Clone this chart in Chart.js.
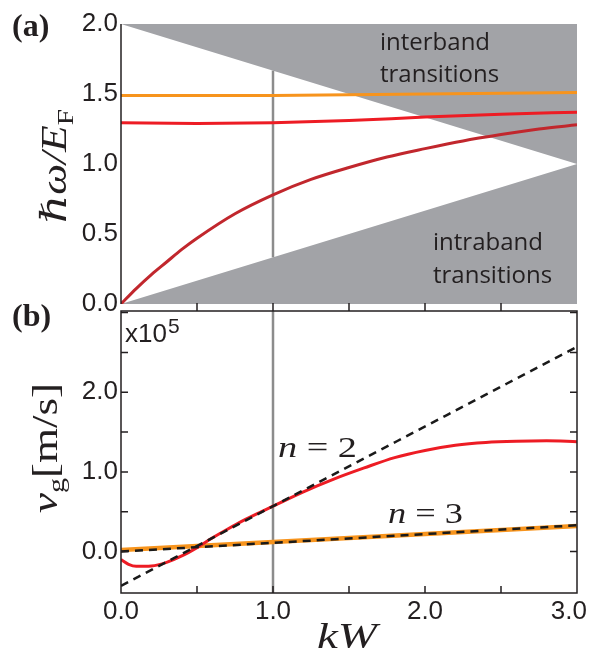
<!DOCTYPE html>
<html>
<head>
<meta charset="utf-8">
<script src="https://cdn.jsdelivr.net/npm/chart.js@4.4.0/dist/chart.umd.min.js"></script>
<style>
  body { margin: 0; background: #fff; width: 589px; height: 652px; position: relative; overflow: hidden; }
  #wa { position: absolute; left: 0; top: 0; width: 589px; height: 312px; }
  #wb { position: absolute; left: 0; top: 300px; width: 589px; height: 352px; }
</style>
</head>
<body>
<div id="wa"><canvas id="chartA"></canvas></div>
<div id="wb"><canvas id="chartB"></canvas></div>
<script>
// ---- panel (a): dispersion hw/EF vs kW ----
var kEdge = [0, 3];
var interbandEdge = [2.0, 1.0];
var intrabandEdge = [0.0, 1.0];
var kMarker = 1.0;
var markerSpanA = [0.333, 1.667];
var kOrangeA = [0, 1, 2, 3];
var orangeA = [1.49, 1.49, 1.50, 1.51];
var kRedA = [0, 0.5, 1, 1.5, 2, 2.5, 3];
var redA = [1.295, 1.29, 1.295, 1.31, 1.335, 1.355, 1.37];
var kDarkA = [0, 0.1, 0.2, 0.3, 0.4, 0.5, 0.75, 1.0, 1.25, 1.5, 1.75, 2.0, 2.25, 2.5, 2.75, 3.0];
var darkA = [0, 0.11, 0.21, 0.30, 0.39, 0.47, 0.645, 0.78, 0.89, 0.975, 1.05, 1.11, 1.165, 1.21, 1.25, 1.28];

// ---- panel (b): group velocity (x10^5 m/s) vs kW ----
var kB = [0, 0.05, 0.1, 0.2, 0.3, 0.4, 0.5, 0.6, 0.7, 0.8, 0.9, 1.0, 1.2, 1.4, 1.6, 1.8, 2.0, 2.2, 2.4, 2.6, 2.8, 3.0];
var vgN2 = [-0.10, -0.16, -0.185, -0.18, -0.135, -0.055, 0.05, 0.17, 0.28, 0.385, 0.48, 0.57, 0.75, 0.91, 1.05, 1.18, 1.27, 1.335, 1.37, 1.385, 1.39, 1.38];
var kLin = [0, 3];
var vgN3 = [0.02, 0.32];
var asymN2 = [-0.43, 2.57];
var asymN3 = [0.0, 0.33];

// ticks
var yTicksB = [0, 1, 2];
var xTickLabels = [0, 1, 2, 3];
var xMinorTicks = [0.5, 1.0, 1.5, 2.0, 2.5];
var yMinorTicksB = [0, 0.5, 1.0, 1.5, 2.0, 2.5, 3.0];

var ink = '#231f20';
var shade = '#a2a3a7';
var sans = '"Liberation Sans", Arial, sans-serif';
var serif = '"Liberation Serif", "DejaVu Serif", serif';

function pts(xs, ys) {
    return xs.map(function(x, i) { return {x: x, y: ys[i]}; });
}

function line(data, color, width, extra) {
    var d = {data: data, borderColor: color, borderWidth: width, pointRadius: 0,
             fill: false, cubicInterpolationMode: 'monotone'};
    for (var k in extra) d[k] = extra[k];
    return d;
}

// no label overflow padding, the plot box is set by layout.padding only
function noPad(s) {
    s.paddingTop = 0; s.paddingBottom = 0; s.paddingLeft = 0; s.paddingRight = 0;
}

// draws text made of parts [text, font, dy], optionally rotated and stretched to a width
function mathText(ctx, parts, x, y, rot, width) {
    ctx.save();
    ctx.translate(x, y);
    if (rot) ctx.rotate(rot);
    var w = 0;
    parts.forEach(function(p) { ctx.font = p[1]; w += ctx.measureText(p[0]).width; });
    if (width) ctx.scale(width / w, 1);
    ctx.fillStyle = ink;
    ctx.textBaseline = 'alphabetic';
    ctx.textAlign = 'left';
    var cx = -w / 2;
    parts.forEach(function(p) {
        ctx.font = p[1];
        ctx.fillText(p[0], cx, p[2] || 0);
        cx += ctx.measureText(p[0]).width;
    });
    ctx.restore();
}

var decorA = {
    id: 'decorA',
    afterDraw: function(chart) {
        var ctx = chart.ctx, a = chart.chartArea;
        ctx.save();
        ctx.strokeStyle = ink;
        ctx.lineWidth = 1.5;
        ctx.beginPath();
        ctx.moveTo(a.left, a.top);
        ctx.lineTo(a.left, a.bottom);
        ctx.stroke();

        ctx.fillStyle = ink;
        ctx.font = 'bold 32px ' + serif;
        ctx.fillText('(a)', 12, 36);

        ctx.font = '24px "Open Sans", sans-serif';
        ctx.fillText('interband', 380, 50);
        ctx.fillText('transitions', 380, 82);
        ctx.fillText('intraband', 433, 250);
        ctx.fillText('transitions', 433, 283);
        ctx.restore();

        mathText(ctx, [['\u210F\u03C9/E', 'italic 36px ' + serif], ['F', '24px ' + serif, 7]],
                 66, 166, -Math.PI / 2, 114);
    }
};

var decorB = {
    id: 'decorB',
    afterDraw: function(chart) {
        var ctx = chart.ctx, a = chart.chartArea;
        var xs = chart.scales.x, ys = chart.scales.y;
        ctx.save();
        ctx.strokeStyle = ink;
        ctx.lineWidth = 1.5;
        ctx.strokeRect(a.left, a.top, a.right - a.left, a.bottom - a.top);
        ctx.beginPath();
        xMinorTicks.forEach(function(v) {
            var px = xs.getPixelForValue(v);
            ctx.moveTo(px, a.bottom); ctx.lineTo(px, a.bottom - 7);
            ctx.moveTo(px, a.top); ctx.lineTo(px, a.top - 8);
        });
        yMinorTicksB.forEach(function(v) {
            var py = ys.getPixelForValue(v);
            ctx.moveTo(a.left, py); ctx.lineTo(a.left + 7, py);
            ctx.moveTo(a.right, py); ctx.lineTo(a.right - 7, py);
        });
        ctx.stroke();

        // x tick labels
        ctx.fillStyle = ink;
        ctx.font = '26px ' + sans;
        ctx.textBaseline = 'alphabetic';
        xTickLabels.forEach(function(v) {
            var s = v.toFixed(1);
            var w = ctx.measureText(s).width;
            var left = Math.min(xs.getPixelForValue(v) - w / 2, 587 - w);
            ctx.fillText(s, left, 319);
        });

        ctx.font = 'bold 32px ' + serif;
        ctx.fillText('(b)', 12, 26);

        ctx.font = '26px ' + sans;
        ctx.fillText('x10', 125, 42);
        var wx = ctx.measureText('x10').width;
        ctx.font = '21px ' + sans;
        ctx.fillText('5', 125 + wx + 1, 33);
        ctx.restore();

        mathText(ctx, [['v', 'italic 36px ' + serif], ['g', '24px ' + serif, 7], ['[m/s]', '36px ' + serif]],
                 57, 148, -Math.PI / 2, 130);
        mathText(ctx, [['kW', 'italic 36px ' + serif]], 347, 348, 0, 60);
        mathText(ctx, [['n', 'italic 29px ' + serif], [' = 2', '29px ' + serif]], 317.5, 157, 0, 79);
        mathText(ctx, [['n', 'italic 29px ' + serif], [' = 3', '29px ' + serif]], 425.5, 223, 0, 75);
    }
};

var yTickFont = {family: sans, size: 26};

new Chart(document.getElementById('chartA').getContext('2d'), {
    type: 'line',
    data: {
        datasets: [
            line(pts(kDarkA, darkA), '#c1272d', 3),
            line(pts(kRedA, redA), '#ed1c24', 3),
            line(pts(kOrangeA, orangeA), '#f7941d', 3),
            line(pts([kMarker, kMarker], markerSpanA), '#8c8c8c', 2.5),
            line(pts(kEdge, interbandEdge), shade, 0, {fill: 'end', backgroundColor: shade}),
            line(pts(kEdge, intrabandEdge), shade, 0, {fill: 'origin', backgroundColor: shade})
        ]
    },
    options: {
        responsive: true,
        maintainAspectRatio: false,
        animation: false,
        layout: {padding: {top: 24, right: 12, bottom: 8, left: 0}, autoPadding: false},
        plugins: {legend: {display: false}, tooltip: {enabled: false}},
        scales: {
            x: {type: 'linear', min: 0, max: 3, display: false},
            y: {
                min: 0, max: 2,
                afterFit: function(s) { s.width = 121; noPad(s); },
                grid: {display: false, drawTicks: false},
                border: {display: false},
                ticks: {stepSize: 0.5, padding: 3, color: ink, font: yTickFont, autoSkip: false,
                        callback: function(v) { return v.toFixed(1); }}
            }
        }
    },
    plugins: [decorA]
});

new Chart(document.getElementById('chartB').getContext('2d'), {
    type: 'line',
    data: {
        datasets: [
            line(pts(kLin, asymN2), '#1a1a1a', 2.5, {borderDash: [8, 6]}),
            line(pts(kLin, asymN3), '#1a1a1a', 2.5, {borderDash: [8, 6]}),
            line(pts(kB, vgN2), '#ed1c24', 3),
            line(pts(kLin, vgN3), '#f7941d', 4.5),
            line(pts([kMarker, kMarker], [-0.52, 3.02]), '#8c8c8c', 2.5)
        ]
    },
    options: {
        responsive: true,
        maintainAspectRatio: false,
        animation: false,
        layout: {padding: {top: 11, right: 12, bottom: 0, left: 0}, autoPadding: false},
        plugins: {legend: {display: false}, tooltip: {enabled: false}},
        scales: {
            x: {
                type: 'linear', min: 0, max: 3,
                afterFit: function(s) { s.height = 59; noPad(s); },
                grid: {display: false, drawTicks: false},
                border: {display: false},
                ticks: {display: false}
            },
            y: {
                min: -0.52, max: 3.02,
                afterFit: function(s) { s.width = 121; noPad(s); },
                afterBuildTicks: function(s) { s.ticks = yTicksB.map(function(v) { return {value: v}; }); },
                grid: {display: false, drawTicks: false},
                border: {display: false},
                ticks: {padding: 3, color: ink, font: yTickFont,
                        callback: function(v) { return v.toFixed(1); }}
            }
        }
    },
    plugins: [decorB]
});
</script>
</body>
</html>
